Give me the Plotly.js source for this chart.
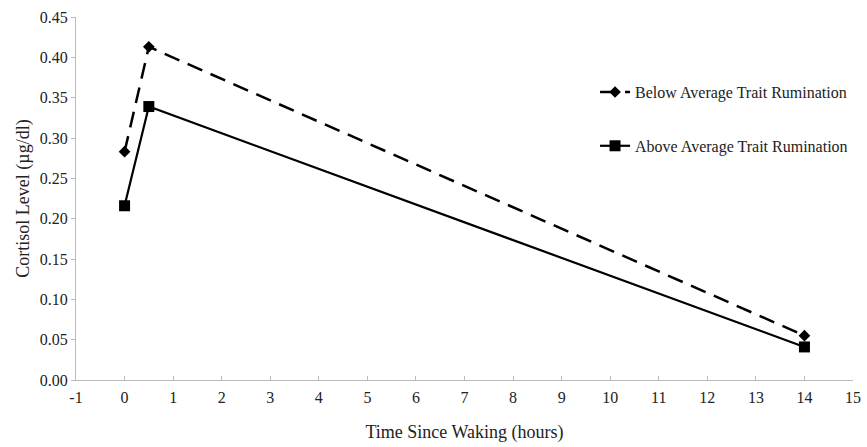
<!DOCTYPE html>
<html><head><meta charset="utf-8">
<script src="https://cdn.plot.ly/plotly-3.0.1.min.js"></script>
<style>body{margin:0;}#chart{width:867px;height:447px;}</style>
</head><body><div id="chart"></div>
<script>
const hours = [0, 0.5, 14];
const belowAvg = [0.283, 0.413, 0.055];
const aboveAvg = [0.216, 0.339, 0.041];
const seriesNames = ['Below Average Trait Rumination', 'Above Average Trait Rumination'];
const xTicks = [-1,0,1,2,3,4,5,6,7,8,9,10,11,12,13,14,15];
const yTicks = [0,0.05,0.10,0.15,0.20,0.25,0.30,0.35,0.40,0.45];

const fam = '"Liberation Serif", "Times New Roman", serif';
const traces = [
  {x: hours, y: belowAvg, name: seriesNames[0], mode: 'lines+markers', legendgroup: 'a',
   line: {color: '#000', width: 2.5, dash: '16px,9px'}, marker: {symbol: 'diamond', size: 9, color: '#000'}},
  {x: hours, y: aboveAvg, name: seriesNames[1], mode: 'lines+markers', legendgroup: 'b',
   line: {color: '#000', width: 2.2}, marker: {symbol: 'square', size: 11, color: '#000'}}
];
const layout = {
  width: 867, height: 447,
  margin: {l: 76, r: 14, t: 17, b: 67},
  paper_bgcolor: '#fff', plot_bgcolor: '#fff',
  font: {family: fam, size: 16, color: '#222'},
  showlegend: true,
  legend: {x: 0.668, y: 0.84, xanchor: 'left', yanchor: 'top', tracegroupgap: 30,
    font: {family: fam, size: 16, color: '#222'}, bgcolor: 'rgba(0,0,0,0)'},
  xaxis: {range: [-1, 15], tickvals: xTicks, ticktext: xTicks.map(String), showgrid: false, zeroline: false,
    showline: true, linecolor: '#bbb', linewidth: 1, ticks: 'inside', ticklen: 4, tickcolor: '#bbb',
    ticklabelstandoff: 3, automargin: false,
    title: {text: 'Time Since Waking (hours)', font: {size: 18}, standoff: 20}},
  yaxis: {range: [0, 0.45], tickvals: yTicks, ticktext: yTicks.map(v => v.toFixed(2)), showgrid: false, zeroline: false,
    showline: true, linecolor: '#bbb', linewidth: 1, ticks: 'outside', ticklen: 4, tickcolor: '#bbb',
    automargin: false,
    title: {text: 'Cortisol Level (µg/dl)', font: {size: 18}, standoff: 5}}
};
Plotly.newPlot('chart', traces, layout, {displayModeBar: false, staticPlot: true});
</script></body></html>
